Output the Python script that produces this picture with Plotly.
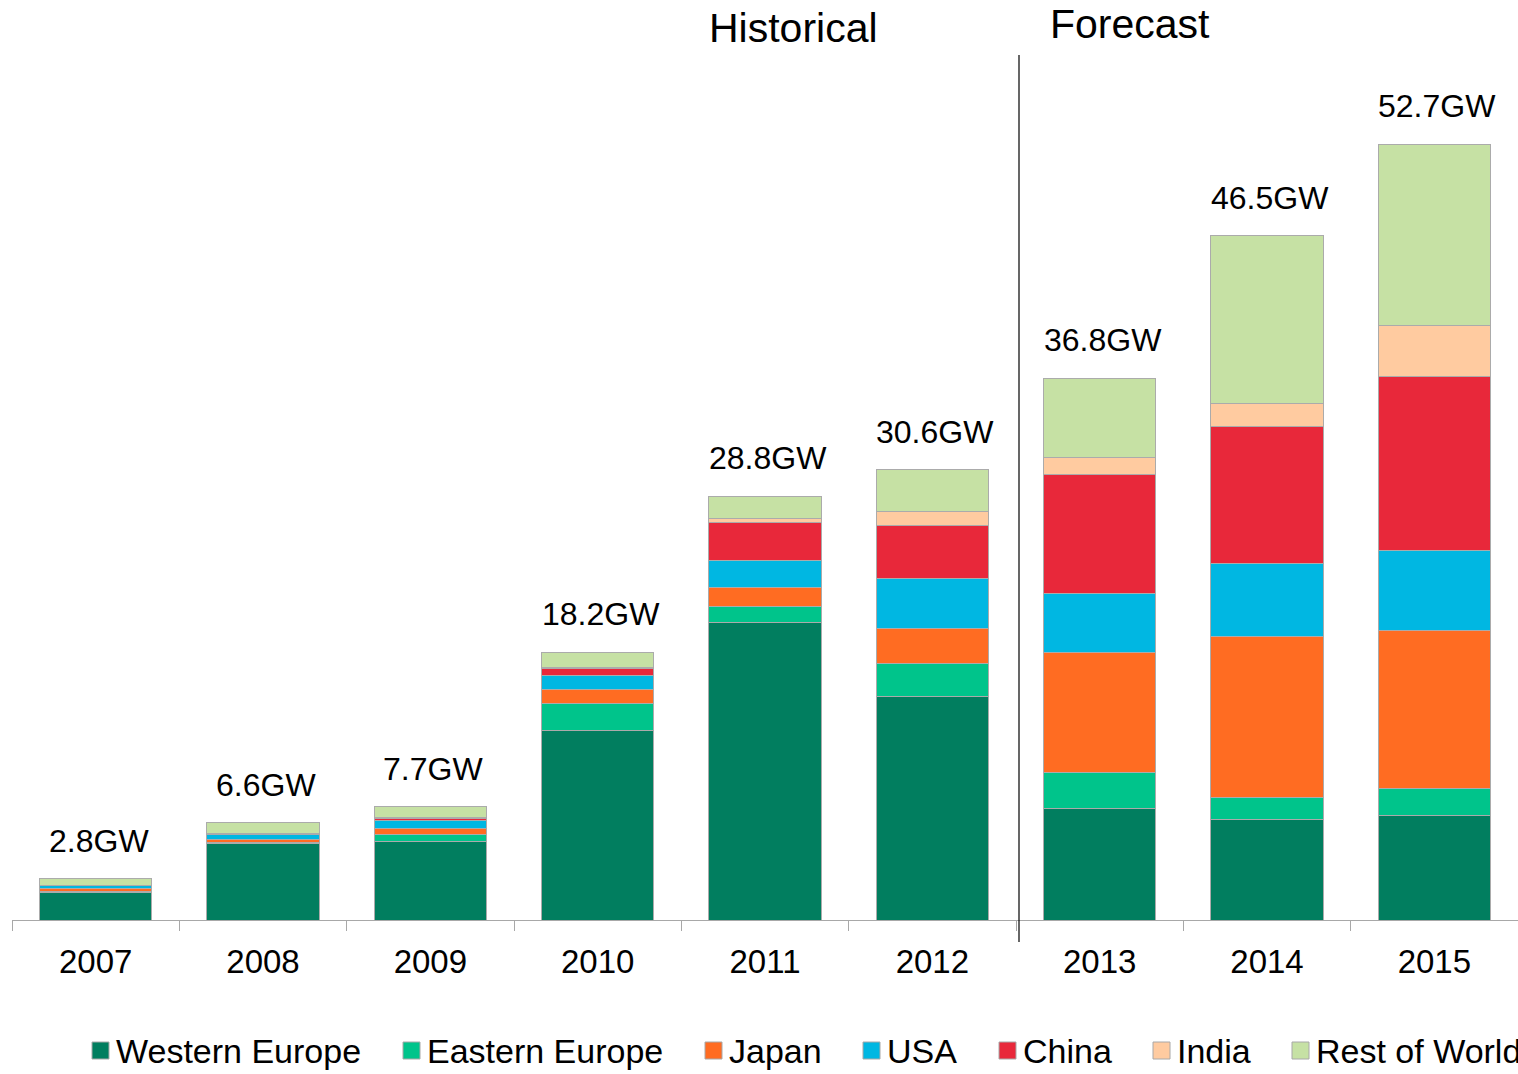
import plotly.graph_objects as go

years = ["2007", "2008", "2009", "2010", "2011", "2012", "2013", "2014", "2015"]
western_europe = [1.9, 5.2, 5.3, 12.9, 20.2, 15.2, 7.6, 6.8, 7.1]
eastern_europe = [0.02, 0.05, 0.5, 1.8, 1.1, 2.2, 2.4, 1.5, 1.8]
japan = [0.2, 0.25, 0.45, 0.95, 1.3, 2.4, 8.2, 10.95, 10.75]
usa = [0.2, 0.3, 0.5, 0.95, 1.85, 3.4, 3.95, 5.0, 5.45]
china = [0.02, 0.05, 0.15, 0.5, 2.55, 3.6, 8.1, 9.3, 11.85]
india = [0.0, 0.05, 0.05, 0.02, 0.3, 0.95, 1.15, 1.55, 3.45]
rest_of_world = [0.46, 0.7, 0.75, 1.08, 1.5, 2.85, 5.4, 11.4, 12.3]
totals = [2.8, 6.6, 7.7, 18.2, 28.8, 30.6, 36.8, 46.5, 52.7]
total_labels = ["2.8GW", "6.6GW", "7.7GW", "18.2GW", "28.8GW", "30.6GW", "36.8GW", "46.5GW", "52.7GW"]

series_names = ["Western Europe", "Eastern Europe", "Japan", "USA", "China", "India", "Rest of World"]
series_values = [western_europe, eastern_europe, japan, usa, china, india, rest_of_world]
series_colors = ["#017E5F", "#00C48B", "#FF6C22", "#00B7E2", "#E8283A", "#FFCBA0", "#C6E1A4"]

FONT = "Liberation Sans, Arial, sans-serif"
W, H = 1518, 1074
ML, MR, MT, MB = 12, 0, 50, 154
PW = W - ML - MR
PH = H - MT - MB


def px_x(px):
    return (px - ML) / PW


def px_y(py):
    return (H - MB - py) / PH


fig = go.Figure()
for name, vals, col in zip(series_names, series_values, series_colors):
    fig.add_trace(go.Bar(
        x=years, y=vals, name=name,
        marker=dict(color=col, line=dict(color="#ABABAB", width=1)),
        showlegend=False,
    ))

annotations = []
for i, (tot, lab) in enumerate(zip(totals, total_labels)):
    annotations.append(dict(
        x=i, y=tot, xref="x", yref="y", text=lab, showarrow=False,
        xanchor="center", yanchor="bottom", yshift=18, xshift=3,
        font=dict(family=FONT, size=32, color="#000000"),
    ))

annotations.append(dict(x=px_x(793), y=px_y(28), xref="paper", yref="paper",
                        text="Historical", showarrow=False, xanchor="center", yanchor="middle",
                        font=dict(family=FONT, size=41, color="#000000")))
annotations.append(dict(x=px_x(1130), y=px_y(24), xref="paper", yref="paper",
                        text="Forecast", showarrow=False, xanchor="center", yanchor="middle",
                        font=dict(family=FONT, size=41, color="#000000")))

shapes = [dict(type="line", xref="paper", yref="paper",
               x0=px_x(1019), x1=px_x(1019), y0=px_y(942), y1=px_y(55),
               line=dict(color="#000000", width=1.2))]

# manual legend
swatch_x = [92, 403, 705, 863, 999, 1153, 1292]
for name, col, sx in zip(series_names, series_colors, swatch_x):
    shapes.append(dict(type="rect", xref="paper", yref="paper",
                       x0=px_x(sx), x1=px_x(sx + 17), y0=px_y(1059), y1=px_y(1042),
                       fillcolor=col, line=dict(color="#A8A8A8", width=1)))
    annotations.append(dict(x=px_x(sx + 22), y=px_y(1051), xref="paper", yref="paper",
                            text=name, showarrow=False, xanchor="left", yanchor="middle",
                            font=dict(family=FONT, size=34, color="#000000")))

fig.update_layout(
    width=W, height=H,
    margin=dict(l=ML, r=MR, t=MT, b=MB, autoexpand=False),
    barmode="stack", bargap=0.33,
    plot_bgcolor="#FFFFFF", paper_bgcolor="#FFFFFF",
    xaxis=dict(type="category", range=[-0.5, 8.5], autorange=False,
               showline=True, linecolor="#A8A8A8", linewidth=1,
               ticks="outside", tickson="boundaries", ticklen=10, tickcolor="#A8A8A8",
               ticklabelstandoff=12,
               showgrid=False, zeroline=False, tickangle=0, automargin=False,
               tickfont=dict(family=FONT, size=33, color="#000000")),
    yaxis=dict(visible=False, range=[0, PH / 14.72], autorange=False,
               showgrid=False, zeroline=False),
    annotations=annotations,
    shapes=shapes,
    showlegend=False,
)

fig.write_html("out.html")
